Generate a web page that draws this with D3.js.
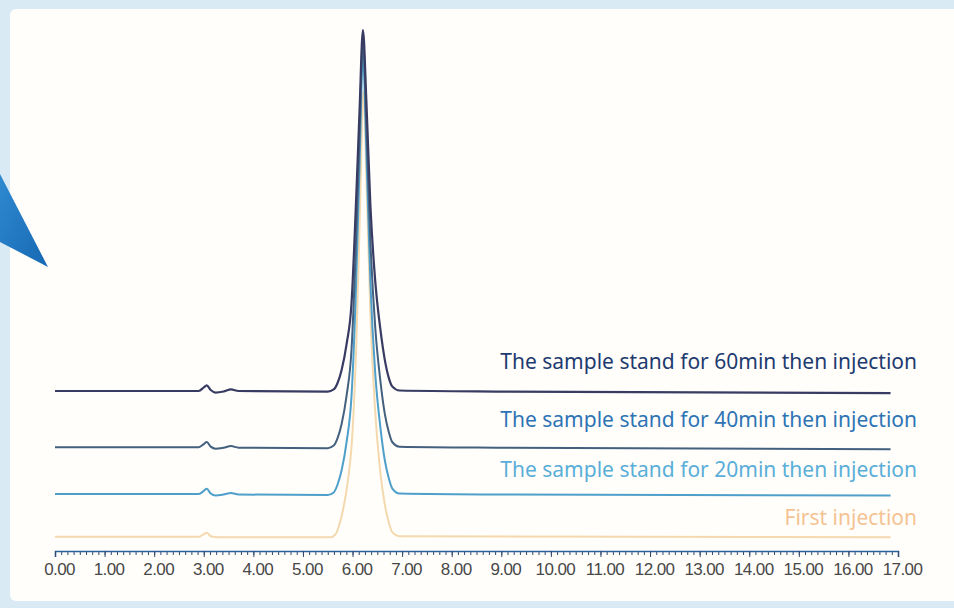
<!DOCTYPE html>
<html>
<head>
<meta charset="utf-8">
<script src="https://cdn.jsdelivr.net/npm/d3@7"></script>
<style>
  body { margin: 0; background: #d9eaf5; }
  svg { display: block; }
</style>
</head>
<body>
<svg id="chart" width="954" height="608"></svg>
<script>
/*
  CHROMATOGRAM
  Four stacked traces of the same sample, injected after standing times
*/

// retention time (min) / signal, traces already stacked
const trace60 = [
  [0, 29.9], [2.9, 29.9], [3.0, 30.6], [3.06, 31.0], [3.14, 30.1], [3.24, 29.6],
  [3.4, 29.8], [3.55, 30.2], [3.7, 29.9], [5.5, 29.8], [5.62, 30.2], [5.7, 31.5],
  [5.78, 34], [5.88, 39], [5.98, 47], [6.06, 64], [6.14, 84], [6.21, 100],
  [6.28, 86], [6.36, 66], [6.46, 51], [6.56, 42], [6.65, 36], [6.73, 32.5],
  [6.8, 30.8], [6.95, 30.0], [9, 29.8], [16.85, 29.5]
];
const trace40 = [
  [0, 19.0], [2.9, 19.0], [3.0, 19.6], [3.06, 20.0], [3.14, 19.1], [3.24, 18.7],
  [3.4, 18.9], [3.55, 19.2], [3.7, 18.9], [5.5, 18.8], [5.62, 19.3], [5.7, 20.8],
  [5.78, 23.5], [5.88, 29], [5.98, 38], [6.06, 56], [6.14, 79], [6.21, 98],
  [6.28, 81], [6.36, 59], [6.46, 42], [6.56, 32], [6.65, 25.5], [6.73, 22],
  [6.8, 20], [6.95, 19.1], [9, 18.9], [16.85, 18.6]
];
const trace20 = [
  [0, 9.9], [2.9, 9.9], [3.0, 10.5], [3.06, 10.9], [3.14, 10.0], [3.24, 9.6],
  [3.4, 9.8], [3.55, 10.1], [3.7, 9.8], [5.5, 9.7], [5.62, 10.2], [5.7, 11.8],
  [5.78, 14.5], [5.88, 20], [5.98, 29], [6.06, 47], [6.14, 73], [6.21, 95],
  [6.28, 76], [6.36, 51], [6.46, 33], [6.56, 23], [6.65, 16.5], [6.73, 13],
  [6.8, 11], [6.95, 10.0], [9, 9.8], [16.85, 9.6]
];
const traceFirst = [
  [0, 1.6], [2.9, 1.6], [3.0, 2.1], [3.06, 2.4], [3.14, 1.7], [3.3, 1.5],
  [5.55, 1.5], [5.65, 2.0], [5.72, 3.5], [5.8, 6.5], [5.9, 12], [6.0, 22],
  [6.08, 40], [6.15, 65], [6.22, 88], [6.29, 68], [6.36, 45], [6.45, 27],
  [6.55, 15], [6.64, 8.5], [6.72, 4.8], [6.8, 2.5], [6.95, 1.7], [16.85, 1.5]
];

const seriesNames = [
  'First injection',
  'The sample stand for 20min then injection',
  'The sample stand for 40min then injection',
  'The sample stand for 60min then injection'
];
const seriesData = [traceFirst, trace20, trace40, trace60];
// signal level each label's baseline sits on
const labelLevel = [3.9, 13.2, 23.0, 34.2];

const majorTicks = [0, 1, 2, 3, 4, 5, 6, 7, 8, 9, 10, 11, 12, 13, 14, 15, 16, 17];

const lineColors = ['#f4d9ae', '#4f9fcb', '#44607f', '#383b62'];
const textColors = ['#f5c393', '#5aaed8', '#2e74b5', '#1e3b70'];

const svg = d3.select('#chart');

/*
 * Frame: light blue border, cream panel, pointer on the left
 */
svg.append('rect')
  .attr('width', 954).attr('height', 608)
  .attr('fill', '#d9eaf5');

svg.append('rect')
  .attr('x', 10).attr('y', 9)
  .attr('width', 960).attr('height', 592)
  .attr('rx', 6)
  .attr('fill', '#fffefb');

const grad = svg.append('defs').append('linearGradient')
  .attr('id', 'pointer')
  .attr('x1', 0).attr('y1', 0).attr('x2', 1).attr('y2', 1);
grad.append('stop').attr('offset', 0).attr('stop-color', '#2f8ad0');
grad.append('stop').attr('offset', 1).attr('stop-color', '#1668b3');

svg.append('path')
  .attr('d', 'M0,174 L48,267 L0,242 Z')
  .attr('fill', 'url(#pointer)');

/*
 * Scales
 */
const x = d3.scaleLinear().domain([0, 17]).range([55, 898]);
const y = d3.scaleLinear().domain([0, 100]).range([545, 30]);

const line = d3.line()
  .x(d => x(d[0]))
  .y(d => y(d[1]))
  .curve(d3.curveMonotoneX);

/*
 * Traces, back to front
 */
svg.append('g')
  .selectAll('path')
  .data(seriesData)
  .join('path')
  .attr('d', line)
  .attr('fill', 'none')
  .attr('stroke', (d, i) => lineColors[i])
  .attr('stroke-width', (d, i) => i === 3 ? 2.2 : 2)
  .attr('stroke-linejoin', 'round');

svg.append('g')
  .selectAll('text')
  .data(seriesNames)
  .join('text')
  .attr('x', 917)
  .attr('y', (d, i) => y(labelLevel[i]))
  .attr('text-anchor', 'end')
  .attr('font-family', '"Noto Sans", sans-serif')
  .attr('font-size', 21)
  .attr('fill', (d, i) => textColors[i])
  .text(d => d);

/*
 * Time axis
 */
const axisY = 551;

const minorAxis = d3.axisBottom(x)
  .tickValues(d3.range(0, 17.001, 0.125))
  .tickSize(4)
  .tickFormat('');

const majorAxis = d3.axisBottom(x)
  .tickValues(majorTicks)
  .tickSize(6)
  .tickPadding(6)
  .tickFormat(d3.format('.2f'));

const gMinor = svg.append('g')
  .attr('transform', `translate(0, ${axisY})`)
  .call(minorAxis);
gMinor.select('.domain').remove();
gMinor.selectAll('line').attr('stroke', '#34496a');

const gMajor = svg.append('g')
  .attr('transform', `translate(0, ${axisY})`)
  .call(majorAxis);
gMajor.select('.domain')
  .attr('stroke', '#2c5f9e')
  .attr('stroke-width', 1.6);
gMajor.selectAll('.tick line').attr('stroke', '#34496a');
gMajor.selectAll('text')
  .attr('dx', 4)
  .attr('font-family', '"Liberation Sans", Arial, sans-serif')
  .attr('font-size', 17)
  .attr('letter-spacing', -0.6)
  .attr('fill', '#484848');
</script>
</body>
</html>
